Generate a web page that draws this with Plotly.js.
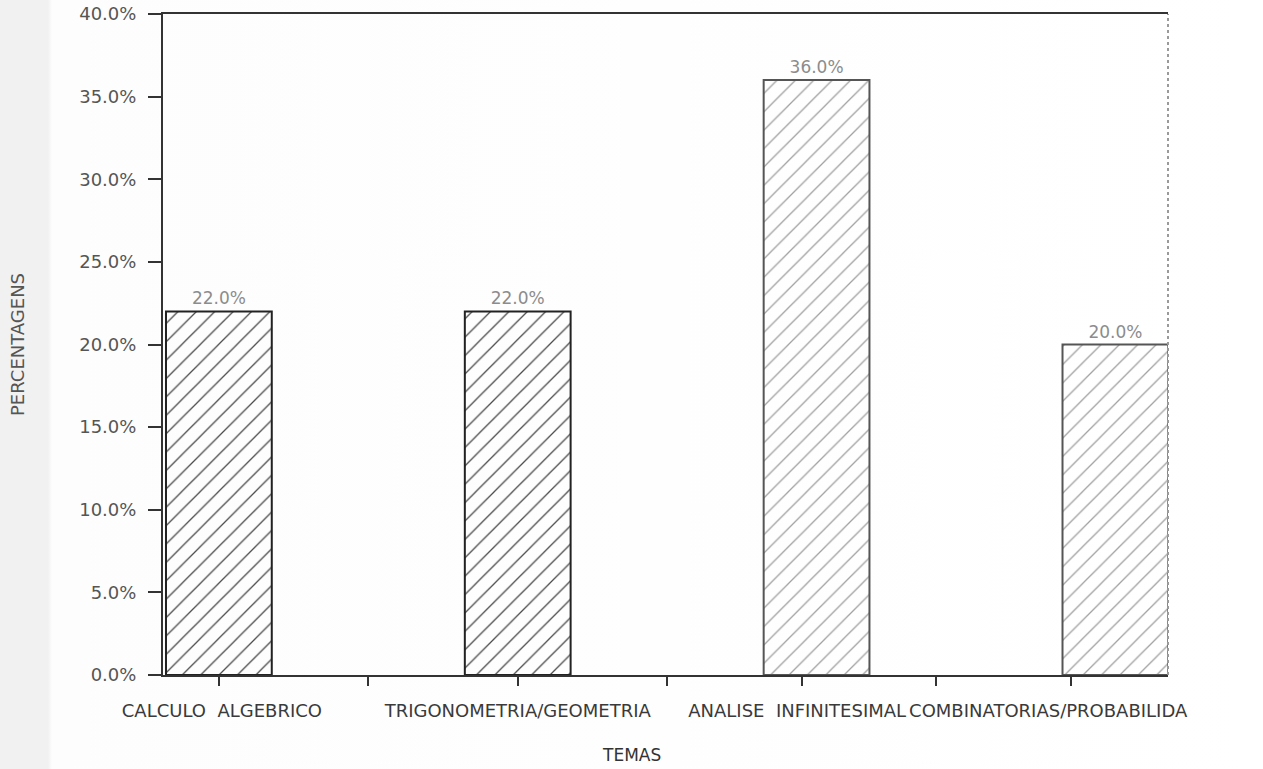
<!DOCTYPE html>
<html>
<head>
<meta charset="utf-8">
<script src="https://cdn.plot.ly/plotly-3.0.1.min.js"></script>
<style>
  html, body { margin: 0; padding: 0; }
  body { background: linear-gradient(to right, #f1f1f1 0px, #f1f1f1 48px, #fdfdfd 52px, #ffffff 100%); }
  #chart { width: 1263px; height: 769px; }
</style>
</head>
<body>
<div id="chart"></div>
<script>
// ---- data ----
const categories = ["CALCULO  ALGEBRICO", "TRIGONOMETRIA/GEOMETRIA", "ANALISE  INFINITESIMAL", "COMBINATORIAS/PROBABILIDA"];
const percentages = [22.0, 22.0, 36.0, 20.0];
const valueLabels = ["22.0%", "22.0%", "36.0%", "20.0%"];
const yTickValues = [0, 5, 10, 15, 20, 25, 30, 35, 40];
const yTickLabels = ["0.0%", "5.0%", "10.0%", "15.0%", "20.0%", "25.0%", "30.0%", "35.0%", "40.0%"];

// ---- styling ----
const fontFamily = "DejaVu Sans, Liberation Sans, sans-serif";
const hatchColors = ["#4a4a4a", "#4a4a4a", "#a0a0a0", "#a0a0a0"];
const outlineColors = ["#222222", "#222222", "#555555", "#555555"];

const xRange = [-0.187, 3.176];
const tickMarkPos = [0, 0.5, 1, 1.5, 1.95, 2.4, 2.85];
const labelPos = [0.01, 1.0, 1.935, 2.775];

const bars = {
  type: "bar",
  x: categories,
  y: percentages,
  text: valueLabels,
  textposition: "outside",
  cliponaxis: false,
  textfont: { family: fontFamily, size: 17, color: "#8c8c8c" },
  width: 0.354,
  marker: {
    color: "rgba(255,255,255,0)",
    line: { color: outlineColors, width: 2 },
    pattern: { shape: "/", fgcolor: hatchColors, bgcolor: "rgba(255,255,255,0)", size: 13, solidity: 0.1 }
  },
  hoverinfo: "x+y",
  xaxis: "x",
  yaxis: "y"
};

// invisible helper traces so the overlay axes are drawn
const helper2 = { type: "scatter", x: xRange, y: [0, 0], mode: "none", hoverinfo: "skip", showlegend: false, xaxis: "x2", yaxis: "y" };
const helper3 = { type: "scatter", x: xRange, y: [0, 0], mode: "none", hoverinfo: "skip", showlegend: false, xaxis: "x3", yaxis: "y" };

const layout = {
  width: 1263,
  height: 769,
  margin: { l: 163, r: 95, t: 14, b: 94 },
  paper_bgcolor: "rgba(0,0,0,0)",
  plot_bgcolor: "rgba(0,0,0,0)",
  showlegend: false,
  font: { family: fontFamily, color: "#444444", size: 17 },
  xaxis: {
    type: "category",
    range: xRange,
    showticklabels: false,
    ticks: "",
    showgrid: false,
    zeroline: false,
    showline: true,
    linecolor: "#333333",
    linewidth: 2,
    mirror: true,
    fixedrange: true
  },
  xaxis2: {
    overlaying: "x",
    anchor: "y",
    side: "bottom",
    type: "linear",
    range: xRange,
    tickmode: "array",
    tickvals: tickMarkPos,
    showticklabels: false,
    ticks: "outside",
    ticklen: 10,
    tickwidth: 2,
    tickcolor: "#333333",
    showgrid: false,
    zeroline: false,
    showline: false,
    fixedrange: true
  },
  xaxis3: {
    overlaying: "x",
    anchor: "y",
    side: "bottom",
    type: "linear",
    range: xRange,
    tickmode: "array",
    tickvals: labelPos,
    ticktext: categories,
    tickangle: 0,
    ticks: "",
    ticklabelstandoff: 23,
    tickfont: { family: fontFamily, size: 18, color: "#3a3a3a" },
    showgrid: false,
    zeroline: false,
    showline: false,
    fixedrange: true
  },
  yaxis: {
    range: [0, 40],
    tickmode: "array",
    tickvals: yTickValues,
    ticktext: yTickLabels,
    ticks: "outside",
    ticklen: 13,
    tickwidth: 2,
    tickcolor: "#333333",
    ticklabelstandoff: 8,
    tickfont: { family: fontFamily, size: 18, color: "#555555" },
    showgrid: false,
    zeroline: false,
    showline: true,
    linecolor: "#333333",
    linewidth: 2,
    mirror: false,
    fixedrange: true,
    title: { text: "PERCENTAGENS", standoff: 50, font: { family: fontFamily, size: 18, color: "#555555" } }
  },
  shapes: [
    { type: "line", xref: "paper", yref: "paper", x0: 1, x1: 1, y0: 0, y1: 1,
      line: { color: "#9a9a9a", width: 2, dash: "dot" } }
  ],
  annotations: [
    { text: "TEMAS", xref: "paper", yref: "paper", x: 0.466, y: 0, yshift: -80,
      showarrow: false, xanchor: "center", yanchor: "middle",
      font: { family: fontFamily, size: 17, color: "#333333" } }
  ]
};

Plotly.newPlot("chart", [bars, helper2, helper3], layout, { displayModeBar: false, staticPlot: true });
</script>
</body>
</html>
